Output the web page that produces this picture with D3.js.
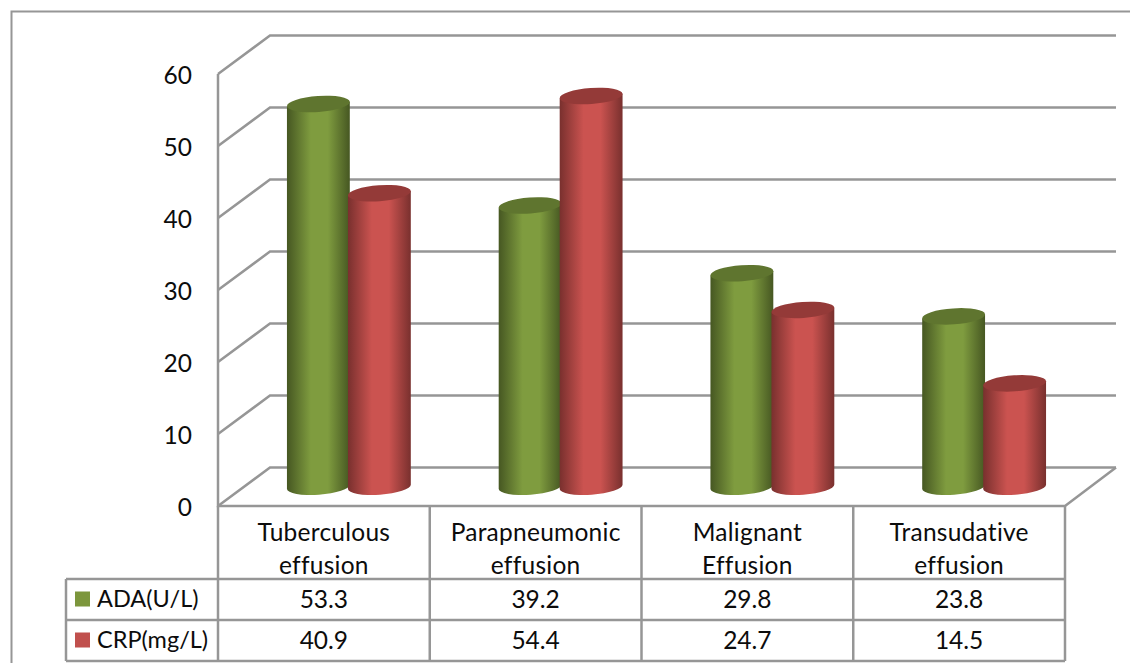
<!DOCTYPE html>
<html>
<head>
<meta charset="utf-8">
<script src="https://cdn.jsdelivr.net/npm/d3@7"></script>
<style>
  html, body { margin: 0; padding: 0; background: #fff; overflow: hidden; }
  text { font-family: Lato, "Open Sans", sans-serif; fill: #0c0c0c; }
</style>
</head>
<body>
<div id="app"></div>
<script>
const categories = [
  ["Tuberculous", "effusion"],
  ["Parapneumonic", "effusion"],
  ["Malignant", "Effusion"],
  ["Transudative", "effusion"]
];
const seriesNames = ["ADA(U/L)", "CRP(mg/L)"];
const ada = [53.3, 39.2, 29.8, 23.8];
const crp = [40.9, 54.4, 24.7, 14.5];
const yTicks = [0, 10, 20, 30, 40, 50, 60];

const width = 1130;
const height = 663;
const gridColor = "#969696";
const fontSize = 24.5;
const dx = 52;
const dy = 38.5;

const svg = d3.select("#app").append("svg").attr("width", width).attr("height", height);

const y = d3.scaleLinear().domain([0, 60]).range([506, 74]);
const x = d3.scaleBand().domain(d3.range(categories.length)).range([218, 1065]);
const xInner = d3.scaleBand().domain(seriesNames).range([0, 122]);

const shades = {
  "ADA(U/L)": { edge: "#465722", mid: "#7f9c3f", top: "#5f752f", key: "#7c963c" },
  "CRP(mg/L)": { edge: "#79302e", mid: "#cb5350", top: "#943a38", key: "#c0504d" }
};

const defs = svg.append("defs");
seriesNames.forEach((name, i) => {
  const grad = defs.append("linearGradient").attr("id", "body" + i);
  grad.append("stop").attr("offset", "0%").attr("stop-color", shades[name].edge);
  grad.append("stop").attr("offset", "38%").attr("stop-color", shades[name].mid);
  grad.append("stop").attr("offset", "65%").attr("stop-color", shades[name].mid);
  grad.append("stop").attr("offset", "100%").attr("stop-color", shades[name].edge);
});

// outer frame, runs off the bottom and right of the picture
svg.append("path")
  .attr("d", `M11.5,663V11.5H1130`)
  .attr("fill", "none").attr("stroke", gridColor).attr("stroke-width", 2);

// walls and gridlines
const walls = svg.append("g").attr("fill", "none").attr("stroke", gridColor).attr("stroke-width", 2.5);
walls.selectAll("path.grid")
  .data(yTicks)
  .join("path")
  .attr("class", "grid")
  .attr("d", (d) => `M218,${y(d)}L${218 + dx},${y(d) - dy}H${1065 + dx - 1}`);
walls.append("path").attr("d", `M218,${y(60)}V${y(0)}H1065L${1065 + dx - 1},${y(0) - dy}`);

// y tick labels
svg.append("g")
  .selectAll("text")
  .data(yTicks)
  .join("text")
  .attr("x", 192)
  .attr("y", (d) => y(d) + 10)
  .attr("text-anchor", "end")
  .attr("font-size", fontSize)
  .text((d) => d);

// cylinders
const values = [ada, crp];
const rx = 31.5;
const ry = 8;
const tilt = -4;
seriesNames.forEach((name, s) => {
  const g = svg.append("g");
  values[s].forEach((v, i) => {
    const cx = x(i) + x.bandwidth() / 2 + dx / 2 - 62 + xInner(name) + xInner.bandwidth() / 2;
    const base = y(0) - dy / 2;
    const top = base - (y(0) - y(v)) + 1;
    const sin = Math.sin((tilt * Math.PI) / 180) * rx;
    const cos = Math.cos((tilt * Math.PI) / 180) * rx;
    g.append("path")
      .attr("d", `M${cx - cos},${top - sin}L${cx - cos},${base - sin}` +
        `A${rx},${ry} ${tilt} 0 0 ${cx + cos},${base + sin}L${cx + cos},${top + sin}Z`)
      .attr("fill", `url(#body${s})`);
    g.append("ellipse")
      .attr("rx", rx).attr("ry", ry)
      .attr("transform", `translate(${cx},${top}) rotate(${tilt})`)
      .attr("fill", shades[name].top);
  });
});

// data table
const tableTop = 579;
const rowH = 41;
const table = svg.append("g").attr("fill", "none").attr("stroke", gridColor).attr("stroke-width", 2.5);
x.domain().concat(categories.length).forEach((i) => {
  const xp = i === categories.length ? x.range()[1] : x(i);
  table.append("path").attr("d", `M${xp},${y(0)}V${tableTop + rowH * 2}`);
});
[0, 1, 2].forEach((r) => {
  table.append("path").attr("d", `M66,${tableTop + rowH * r}H1065`);
});
table.append("path").attr("d", `M66,${tableTop}V${tableTop + rowH * 2}`);

categories.forEach((lines, i) => {
  lines.forEach((line, l) => {
    svg.append("text")
      .attr("x", x(i) + x.bandwidth() / 2)
      .attr("y", 541 + l * 33)
      .attr("text-anchor", "middle")
      .attr("font-size", fontSize)
      .attr("letter-spacing", 0.25)
      .text(line);
  });
});

seriesNames.forEach((name, s) => {
  const rowY = tableTop + rowH * s;
  svg.append("rect")
    .attr("x", 75).attr("y", rowY + 12.5).attr("width", 15).attr("height", 15)
    .attr("fill", shades[name].key);
  svg.append("text")
    .attr("x", 97).attr("y", rowY + 28)
    .attr("font-size", 23.5)
    .text(name);
  values[s].forEach((v, i) => {
    svg.append("text")
      .attr("x", x(i) + x.bandwidth() / 2)
      .attr("y", rowY + 29)
      .attr("text-anchor", "middle")
      .attr("font-size", fontSize)
      .text(v.toFixed(1));
  });
});
</script>
</body>
</html>
